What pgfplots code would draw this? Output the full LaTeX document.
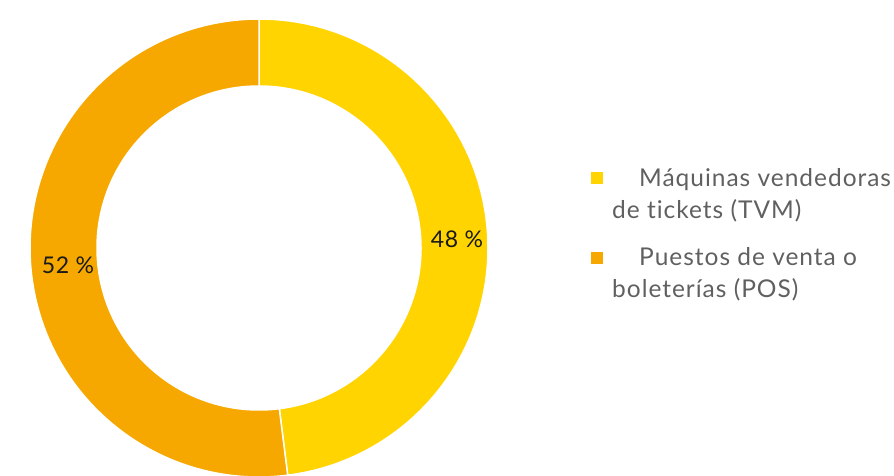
\documentclass[border=0pt]{standalone}
\usepackage{pgfplots}
\usepackage{pgfplotstable}
\pgfplotsset{compat=1.18}
\usetikzlibrary{calc}
\usepackage{fontspec}
\setmainfont{Lato}
\newfontfamily\legfont[LetterSpace=4,Ligatures={NoCommon,NoRare,NoDiscretionary}]{Lato}
\newfontfamily\lblfont[LetterSpace=3]{Lato}
\definecolor{colTVM}{HTML}{FFD400}
\definecolor{colPOS}{HTML}{F6A800}
\definecolor{legtxt}{HTML}{606060}
\definecolor{lbltxt}{HTML}{1A1A1A}
\pgfplotstableread{
label value
TVM 48
POS 52
}\datatable
\begin{document}
\begin{tikzpicture}
\pgfplotstablegetelem{0}{value}\of\datatable
\pgfmathsetmacro\angA{90-3.6*\pgfplotsretval}
\pgfmathsetmacro\angC{\angA+360}
\begin{axis}[name=ax,
  width=894pt, height=475pt, scale only axis,
  xmin=0, xmax=894, ymin=0, ymax=475,
  hide axis, clip=true,
]
% TVM slice (clockwise from top)
\fill[colTVM, draw=white, line width=1.5pt]
  (axis cs:259,227) ++(90:229pt) arc[start angle=90, end angle=\angA, radius=229pt]
  -- ($(axis cs:259,227)+(\angA:162pt)$) arc[start angle=\angA, end angle=90, radius=162pt] -- cycle;
% POS slice
\fill[colPOS, draw=white, line width=1.5pt]
  (axis cs:259,227) ++(\angA:229pt) arc[start angle=\angA, end angle=-270, radius=229pt]
  -- ($(axis cs:259,227)+(90:162pt)$) arc[start angle=90, end angle=\angC, radius=162pt] -- cycle;
\node[anchor=base, text=lbltxt, font=\lblfont\fontsize{23}{27}\selectfont] at (axis cs:457,228) {48 \%};
\node[anchor=base, text=lbltxt, font=\lblfont\fontsize{23}{27}\selectfont] at (axis cs:68,202) {52 \%};
% legend
\fill[colTVM] (axis cs:591,291) rectangle (axis cs:603,303);
\fill[colPOS] (axis cs:591,211) rectangle (axis cs:603,223);
\node[anchor=base west, inner sep=0pt, text=legtxt, font=\legfont\fontsize{24.5}{29}\selectfont] at (axis cs:639,289) {Máquinas vendedoras};
\node[anchor=base west, inner sep=0pt, text=legtxt, font=\legfont\fontsize{24.5}{29}\selectfont] at (axis cs:612,257) {de tickets (TVM)};
\node[anchor=base west, inner sep=0pt, text=legtxt, font=\legfont\fontsize{24.5}{29}\selectfont] at (axis cs:639,210) {Puestos de venta o};
\node[anchor=base west, inner sep=0pt, text=legtxt, font=\legfont\fontsize{24.5}{29}\selectfont] at (axis cs:612,178) {boleterías (POS)};
\end{axis}
\pgfresetboundingbox
\useasboundingbox (ax.south west) rectangle (ax.north east);
\end{tikzpicture}
\end{document}
